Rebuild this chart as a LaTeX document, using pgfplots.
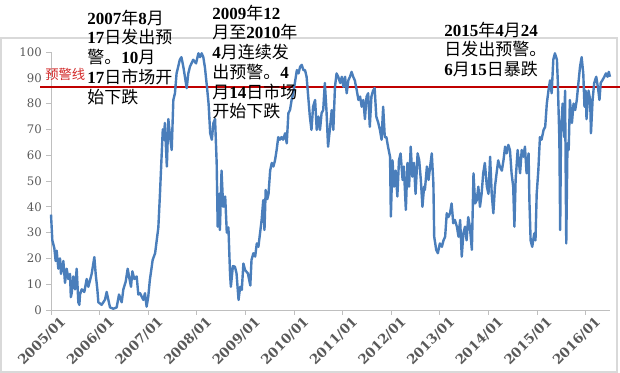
\documentclass[border=0pt]{standalone}
\usepackage{pgfplots}
\pgfplotsset{compat=1.18}
\usepackage{fontspec}
\setmainfont{Liberation Serif}
\newfontfamily\cjk{Noto Sans CJK SC}
\newfontfamily\tickfont{DejaVu Serif}
\newcommand{\zh}[1]{{\cjk\mdseries #1}}
\definecolor{serblue}{RGB}{74,126,187}
\definecolor{warnred}{RGB}{192,0,0}
\definecolor{labred}{RGB}{210,40,40}
\definecolor{framegray}{RGB}{217,217,217}
\definecolor{axgray}{RGB}{191,191,191}
\definecolor{tickgray}{RGB}{89,89,89}
\begin{document}
\begin{tikzpicture}
\path[use as bounding box] (0pt,0pt) rectangle (465pt,-279.75pt);
\draw[framegray, line width=0.8pt] (0.75pt,-28.5pt) rectangle (462.75pt,-279pt);
\begin{axis}[
  at={(38.25pt,-232.5pt)}, anchor=south west,
  scale only axis, width=419.25pt, height=193.5pt,
  xmin=0, xmax=138, ymin=0, ymax=100,
  clip=false,
  axis lines*=left,
  axis line style={axgray, line width=0.6pt},
  tick style={axgray, line width=0.6pt},
  tick align=outside, major tick length=3.4pt,
  xtick={0,12,...,132},
  xticklabels={2005/01,2006/01,2007/01,2008/01,2009/01,2010/01,2011/01,2012/01,2013/01,2014/01,2015/01,2016/01},
  ytick={0,10,...,100},
  /pgf/number format/assume math mode=true,
  yticklabel style={font=\tickfont\fontsize{8.8}{10}\selectfont, text=tickgray},
  xticklabel style={font=\tickfont\bfseries\fontsize{10}{11}\selectfont, text=tickgray, rotate=45, anchor=north east, inner sep=1pt, xshift=5pt, yshift=-4pt},
]
\addplot[warnred, line width=1.5pt] coordinates {(-2.7,86.3) (140.5,86.3)};
\addplot[serblue, line width=1.8pt, line join=round, mark=none] coordinates {
(0,37) (0.33,27) (0.82,24) (1.15,19) (1.4,23) (1.81,16) (2.22,20) (2.47,14) (3.05,19) (3.46,10.5) (3.87,16) (4.28,12) (4.69,14) (4.9,5) (5.1,6.5) (5.5,13) (5.93,8) (6.34,16) (6.75,3) (7.0,2) (7.16,6) (7.57,8) (8.23,7) (8.81,12) (9.22,9) (10.04,14) (10.7,20.5) (11.03,14) (11.44,8) (11.69,3) (12.5,2) (13.33,4) (13.74,7) (14.15,4) (14.57,1) (15.39,0.5) (16.21,1) (16.79,6) (17.45,3) (17.86,8) (18.44,11) (18.93,16) (19.26,13) (19.75,9) (20.08,15) (20.58,12) (21.15,13) (21.56,6)
(21.98,6.5) (22.8,3.9) (23.2,6.5) (23.6,1.3) (24.0,5) (24.4,11.6) (25.1,19.4) (25.7,22) (26.1,27) (26.5,32) (26.9,45) (27.3,59.5) (27.6,70) (27.9,66) (28.1,72.5) (28.6,55.6) (28.97,74) (29.4,67) (29.8,62) (30.2,81.4) (30.6,84) (31.0,91.7) (31.4,94.3) (31.8,97) (32.2,98) (32.7,94) (33.1,90) (33.5,86) (33.9,91.7) (34.3,94.3) (35.1,97) (35.8,95.6) (36.4,99.5) (36.8,98) (37.2,99.5) (37.6,98) (38.0,94) (38.5,86.5) (38.9,80) (39.3,68.5) (39.7,66) (40.1,72.5) (40.5,74) (40.9,57) (41.15,32.3) (41.5,45) (41.7,31) (42.1,54) (42.5,40) (43.0,44) (43.4,30) (43.8,32) (44.2,14) (44.4,9) (44.9,17)
(45.4,16.8) (45.8,14.2) (46.3,3.9) (46.7,9) (47.1,7.8) (47.5,18) (47.9,15.5) (48.6,14.2) (49.2,9.5) (49.5,19.4) (49.96,22) (50.4,20.7) (50.8,25.8) (51.2,24.5) (51.6,29.7) (52.0,34.9) (52.4,42.6) (52.7,31) (53.0,46.5) (53.4,43) (53.7,45) (54.1,54) (54.5,57) (54.9,55.6) (55.3,58) (55.7,62) (56.1,67) (56.5,66) (56.9,67) (57.3,66) (57.8,68.5) (58.2,64.6) (58.6,76.3) (59.0,77.5) (59.4,81.4) (59.8,84) (60.2,88) (60.7,93) (61.1,91.7) (61.5,94.3) (61.9,95) (62.3,93) (62.7,93) (63.1,90.4) (63.5,82.7) (63.9,75) (64.3,69.8) (64.7,78.8) (65.2,81.4) (65.6,69.8) (66.0,75) (66.4,69.8) (66.8,76.3) (67.2,77.5) (67.6,88) (68.0,77.5) (68.4,63.3) (68.9,71)
(69.3,77.5) (69.7,69.8) (70.1,86.5) (70.5,91.7) (70.9,90.4) (71.4,88) (71.8,90.4) (72.2,86.5) (72.6,90.4) (73.0,84) (73.4,89) (73.8,90.4) (74.2,92.3) (74.6,90.4) (75.0,89) (75.5,85) (75.9,81.4) (76.3,82.7) (76.7,78.8) (77.1,81.4) (77.5,74) (77.9,82.7) (78.3,84) (78.7,71) (79.1,82.7) (79.5,85) (79.9,86) (80.3,75) (80.8,72.5) (81.2,69.8) (81.6,66) (82.0,78.8) (82.4,67) (82.8,67) (83.2,63.3) (83.7,59.4) (83.9,36.2) (84.3,58) (84.7,47.8) (85.1,54) (85.5,44) (85.9,58) (86.3,60.7) (86.8,50.4) (87.1,55.6) (87.6,38.8) (88.0,57) (88.4,47.8) (88.8,63.3) (89.2,51.7) (89.6,57) (90.0,45) (90.5,60.7) (90.9,58) (91.3,50.4) (91.7,40) (92.1,47.8)
(92.3,46.5) (92.8,55.6) (93.2,50.4) (93.6,55.6) (94.0,60.7) (94.4,49) (94.6,28.4) (95.1,23.3) (95.5,22) (96.0,25.8) (96.5,24.5) (96.9,27) (97.3,28.4) (97.7,37.5) (98.1,36) (98.5,37.5) (98.9,41.3) (99.3,33.6) (99.7,34.9) (100.2,32.3) (100.6,28.4) (101.0,34.9) (101.4,20.7) (101.8,29.7) (102.2,32.3) (102.6,27) (103.0,36) (103.4,32.3) (103.9,23.3) (104.3,53) (104.7,41.3) (105.1,42.6) (105.5,47.8) (105.9,40) (106.3,45) (106.7,53) (107.1,57) (107.6,47.8) (108.0,45) (108.4,59.4) (108.8,45) (109.2,37.5) (109.6,47.8) (110.0,53) (110.4,58) (110.8,55.6) (111.3,54) (111.7,58) (112.1,63.3) (112.5,60.7) (112.9,64) (113.3,62) (113.7,53) (114.1,47.8) (114.4,32.3) (114.7,50.4) (115.2,62)
(115.8,53) (116.2,62) (116.6,59.4) (117.0,63.3) (117.4,53) (117.9,60.7) (118.1,42.6) (118.4,27) (118.8,24.5) (119.3,29.7) (119.6,27) (119.9,45) (120.3,54) (120.7,67) (121.1,66) (121.6,69.8) (122.0,71) (122.4,80) (122.8,85) (123.2,89) (123.6,84) (124.0,97) (124.4,99.5) (124.9,97) (125.1,89) (125.5,66) (125.7,31) (125.9,68.5) (126.3,80) (126.7,67) (126.9,85) (127.2,25.8) (127.5,64.6) (127.8,62) (128.1,81.4) (128.6,72.5) (129.0,80) (129.4,77.5) (129.8,81.4) (130.2,88) (130.6,94.3) (131.0,98) (131.4,91.7) (131.7,78.8) (132.0,85) (132.2,74) (132.7,85) (133.1,81.4) (133.3,68.5) (133.7,81.4) (134.1,88) (134.6,90.4) (135.0,86.5) (135.4,81.4) (135.7,88) (136.1,89) (136.6,90.4) (137.0,91.7) (137.4,90.4) (137.7,92.3) (138.0,90.4)
};
\end{axis}
\node[anchor=west, inner sep=0pt, text=labred, font=\fontsize{10}{12}\selectfont] at (33.75pt,-55.5pt) {\zh{预警线}};
\node[anchor=north west, inner sep=0pt, align=left, font=\bfseries\fontsize{12.75}{14.8}\selectfont] at (65.25pt,-7.1pt)
  {2007\zh{年}8\zh{月}\\17\zh{日发出预}\\\zh{警。}10\zh{月}\\17\zh{日市场开}\\\zh{始下跌}};
\node[anchor=north west, inner sep=0pt, align=left, font=\bfseries\fontsize{12.75}{14.8}\selectfont] at (159pt,-3.4pt)
  {2009\zh{年}12\\\zh{月至}2010\zh{年}\\4\zh{月连续发}\\\zh{出预警。}4\\\zh{月}14\zh{日市场}\\\zh{开始下跌}};
\node[anchor=north west, inner sep=0pt, align=left, font=\bfseries\fontsize{12.75}{14.8}\selectfont] at (333pt,-16.1pt)
  {2015\zh{年}4\zh{月}24\\\zh{日发出预警。}\\6\zh{月}15\zh{日暴跌}};
\end{tikzpicture}
\end{document}
